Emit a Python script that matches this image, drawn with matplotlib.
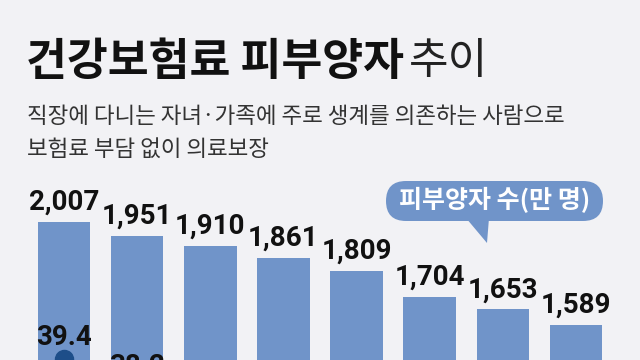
import matplotlib.pyplot as plt
from matplotlib.patches import FancyBboxPatch, Polygon

plt.rcParams['font.family'] = ['Noto Sans CJK KR', 'DejaVu Sans']

# 피부양자 수 (만 명)
dependents = [2007, 1951, 1910, 1861, 1809, 1704, 1653, 1589]
labels = ['2,007', '1,951', '1,910', '1,861', '1,809', '1,704', '1,653', '1,589']
# 피부양자 비율 (%) - 아래쪽이 잘려서 앞의 두 값만 보임
ratio = [39.4, 38.2]
ratio_labels = ['39.4', '38.2']

bg = '#f2f2f5'
bar_c = '#7094c9'
line_c = '#1d4e89'
W, H = 640, 360

fig = plt.figure(figsize=(6.4, 3.6), dpi=100)
fig.patch.set_facecolor(bg)

# title
fig.text(26/W, 1 - 62/H, '건강보험료 피부양자', fontsize=32, fontweight='heavy',
         color='#111111', va='center', ha='left')
fig.text(409/W, 1 - 62/H, '추이', fontsize=31, fontweight='light',
         color='#222222', va='center', ha='left')
fig.text(27/W, 1 - 117/H, '직장에 다니는 자녀·가족에 주로 생계를 의존하는 사람으로',
         fontsize=16.2, color='#333333', va='center', ha='left')
fig.text(27/W, 1 - 149/H, '보험료 부담 없이 의료보장',
         fontsize=16.2, color='#333333', va='center', ha='left')

# bars
ax = fig.add_axes([0, 0, 1, 0.5])
ax.set_facecolor('none')
x = list(range(len(dependents)))
ax.bar(x, dependents, width=0.72, color=bar_c)
ax.set_xlim(-0.875, 7.875)
ax.set_ylim(1447, 2178)
ax.axis('off')
for i, v in enumerate(dependents):
    ax.annotate(labels[i], (i, v), xytext=(0, 12), textcoords='offset pixels',
                ha='center', va='baseline', fontsize=20, fontweight='bold',
                family=['Roboto', 'DejaVu Sans'], color='#111111', annotation_clip=False)

# ratio line
ax2 = fig.add_axes([0, 0, 1, 0.5])
ax2.set_facecolor('none')
ax2.plot(x[:len(ratio)], ratio, color=line_c, lw=2, marker='o', ms=13, clip_on=False)
ax2.set_xlim(-0.875, 7.875)
ax2.set_ylim(39.358, 46.86)
ax2.axis('off')
for i, v in enumerate(ratio):
    ax2.annotate(ratio_labels[i], (i, v), xytext=(0, 14), textcoords='offset pixels',
                 ha='center', va='baseline', fontsize=20, fontweight='bold',
                 family=['Roboto', 'DejaVu Sans'], color='#111111', annotation_clip=False)

# legend bubble (inch units)
bubble = FancyBboxPatch((386/100, (H - 221)/100), 217/100, 40/100,
                        boxstyle='round,pad=0,rounding_size=0.2',
                        transform=fig.dpi_scale_trans, fc=bar_c, ec='none')
fig.patches.append(bubble)
tail = Polygon([(466/W, 1 - 218/H), (489/W, 1 - 218/H), (487/W, 1 - 243/H)],
               closed=True, transform=fig.transFigure, fc=bar_c, ec='none')
fig.patches.append(tail)
fig.text(495/W, 1 - 200/H, '피부양자 수(만 명)', fontsize=18, fontweight='bold',
         color='white', ha='center', va='center')

fig.savefig('out.png', dpi=100, facecolor=bg)
